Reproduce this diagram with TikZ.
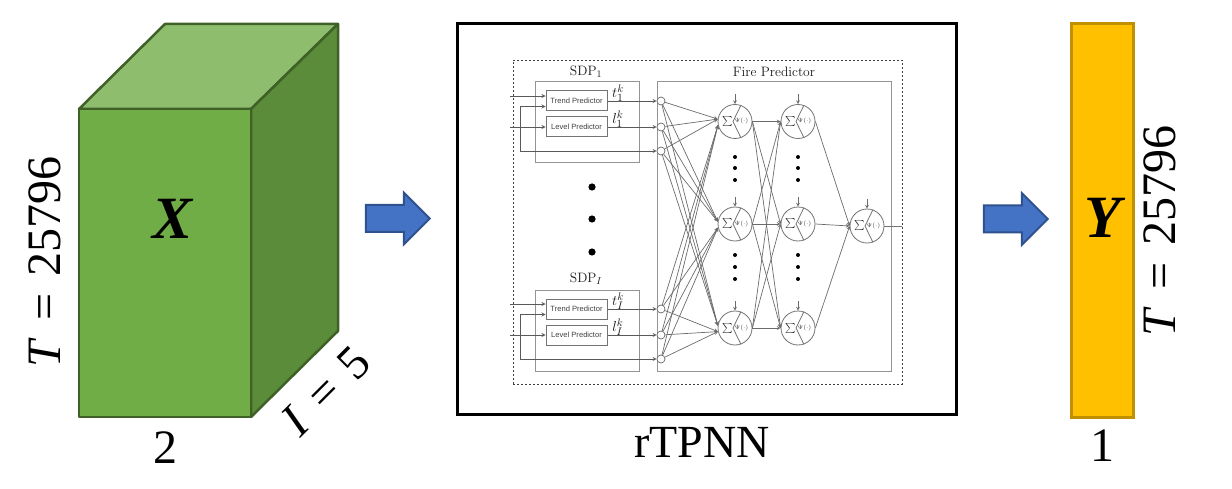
\documentclass[tikz,border=0pt]{standalone}
\usepackage{fontspec}
\usetikzlibrary{shapes.arrows}
\newfontfamily\timesfont{Liberation Serif}
\newfontfamily\arialfont{Liberation Sans}
\newcommand{\fs}[1]{\fontsize{#1}{#1}\selectfont}
\newcommand{\eqtxt}[2]{\textit{#1}\hspace{0.36em}=\hspace{0.36em}#2}
\definecolor{cubefront}{HTML}{70AD47}
\definecolor{cubetop}{HTML}{8EBE6D}
\definecolor{cubeside}{HTML}{5B8C39}
\definecolor{cubeline}{HTML}{3F6027}
\definecolor{outfill}{HTML}{FFC000}
\definecolor{outline}{HTML}{BF9000}
\definecolor{arrfill}{HTML}{4472C4}
\definecolor{arrline}{HTML}{2F528F}
\tikzset{
  cubeface/.style={draw=cubeline,line width=2.5,line join=round},
  bigtxt/.style={font=\timesfont\fs{48},inner sep=0},
  bigrm/.style={font=\timesfont\fs{46},inner sep=0},
  boldvar/.style={font=\timesfont\bfseries\itshape\fs{60},inner sep=0},
  blockarr/.style={single arrow,draw=arrline,fill=arrfill,line width=2,inner xsep=0,inner ysep=12.5,
    minimum height=64,single arrow head extend=12.5},
  frame/.style={draw=black!42,line width=1},
  predbox/.style={draw=black!55,line width=1,minimum width=61,minimum height=20,inner sep=0,
    font=\arialfont\fs{7.6},text=black!75},
  wire/.style={draw=black!65,line width=0.8,->,>=stealth},
  net/.style={draw=black!58,line width=0.7,->,>=stealth},
  inpt/.style={circle,draw=black!60,fill=white,line width=0.7,minimum size=8,inner sep=0},
  neuron/.style={circle,draw=black!55,fill=white,line width=0.8,minimum size=34,inner sep=0},
  sumlbl/.style={font=\fs{10},inner sep=0,text=black!85},
  philbl/.style={font=\fs{6.2},inner sep=0,text=black!75},
  smalltxt/.style={font=\fs{13.6},inner sep=0,text=black!90},
}
\begin{document}
\begin{tikzpicture}[x=1pt,y=-1pt]
  \useasboundingbox (0,0) rectangle (1232,489);
  % input block
  \fill[cubetop,cubeface] (79,109) -- (165,24) -- (338,24) -- (251,109) -- cycle;
  \fill[cubeside,cubeface] (251,109) -- (338,24) -- (338,331) -- (251,417) -- cycle;
  \fill[cubefront,cubeface] (79,109) rectangle (251,417);
  \node[boldvar] (xvar) at (173,219) {X};
  \node[bigtxt,rotate=90] (tleft) at (45,262) {\eqtxt{T}{25796}};
  \node[bigtxt,rotate=45] (idim) at (326,391) {\eqtxt{I}{5}};
  \node[bigtxt] (two) at (165,448) {2};
  \node[blockarr] (arrin) at (391,218.5) {};
  % model box
  \node[draw=black,line width=3,minimum width=499,minimum height=390,inner sep=0] (model) at (706.5,219) {};
  \node[bigrm] (modelname) at (702,442) {rTPNN};
  \node[draw=black!75,line width=0.9,dash pattern=on 2 off 2,minimum width=389,minimum height=324,inner sep=0] (dashbox) at (707.5,222) {};
  \node[frame,minimum width=234,minimum height=289,inner sep=0] (firebox) at (774,226.5) {};
  \node[smalltxt] (firelbl) at (774,72) {Fire Predictor};
  % the two SDP blocks
  \foreach \g/\dy/\sb in {1/0/1,2/208/I} {
    \node[frame,minimum width=104,minimum height=81,inner sep=0] (sdp\g) at (587,{122.5+\dy}) {};
    \node[smalltxt] (sdplbl\g) at (586,{72+(\g-1)*207}) {SDP$_{\sb}$};
    \node[predbox] (trend\g) at (576.5,{101+\dy}) {Trend Predictor};
    \node[predbox] (level\g) at (576.5,{127+\dy}) {Level Predictor};
    \node[smalltxt,font=\fs{15}] (tk\g) at (618,{93+\dy}) {$t_{\sb}^{k}$};
    \node[smalltxt,font=\fs{15}] (lk\g) at (618,{119+\dy}) {$l_{\sb}^{k}$};
    \node[inpt] (a\g) at (661,{101+\dy}) {};
    \node[inpt] (b\g) at (661,{127+\dy}) {};
    \node[inpt] (c\g) at (661,{151+\dy}) {};
    \coordinate (tin\g) at (510,{96+\dy});
    \coordinate (lin\g) at (510,{127+\dy});
    \coordinate (fbk\g) at (520,{151+\dy});
    \draw[wire] (tin\g) -- (tin\g -| trend\g.west);
    \draw[wire] (lin\g) -- (level\g.west);
    \draw[wire] (fbk\g) |- ([yshift=5]trend\g.south west);
    \draw[wire] (fbk\g) -- (c\g);
    \draw[wire] (trend\g) -- (a\g);
    \draw[wire] (level\g) -- (b\g);
  }
  \foreach \y in {187,219,252} {
    \fill (592,\y) circle (3.6);
  }
  % neurons
  \foreach \nm/\x/\y in {n11/735/121.5,n12/735/224,n13/735/328,n21/798/121.5,n22/798/224,n23/798/328,nout/867/226} {
    \node[neuron] (\nm) at (\x,\y) {};
    \node[sumlbl] (sum\nm) at ({\x-7.5},\y) {$\textstyle\sum$};
    \node[philbl] (phi\nm) at ({\x+6.5},\y) {$\Psi(\cdot)$};
    \draw[black!55,line width=0.8] (\nm.70) -- ([xshift=-2]\nm.center) -- (\nm.-70);
    \coordinate (top\nm) at (\x,{\y-27});
    \draw[net] (top\nm) -- (\nm);
  }
  \foreach \y in {157,168,180,255,267,279} {
    \fill (735,\y) circle (2);
    \fill (798,\y) circle (2);
  }
  % connections
  \foreach \g/\ang in {1/172,2/192} {
    \foreach \src in {a,b,c} {
      \foreach \dst in {n11,n12,n13} {
        \draw[net] (\src\g) -- (\dst.\ang);
      }
    }
  }
  \foreach \src in {n11,n12,n13} {
    \foreach \dst in {n21,n22,n23} {
      \draw[net] (\src.east) -- (\dst.west);
    }
  }
  \foreach \src in {n21,n22,n23} {
    \draw[net] (\src.east) -- (nout.west);
  }
  \coordinate (outend) at (902,226);
  \draw[black!55,line width=0.8] (nout) -- (outend);
  % output block
  \node[draw=outline,fill=outfill,line width=3,minimum width=62,minimum height=393,inner sep=0] (ybox) at (1102,220.5) {};
  \node[boldvar] (yvar) at (1103,218) {Y};
  \node[bigtxt,rotate=90] (tright) at (1160,231) {\eqtxt{T}{25796}};
  \node[bigtxt] (one) at (1102,446) {1};
  \node[blockarr] (arrout) at (1009,219) {};
\end{tikzpicture}
\end{document}
